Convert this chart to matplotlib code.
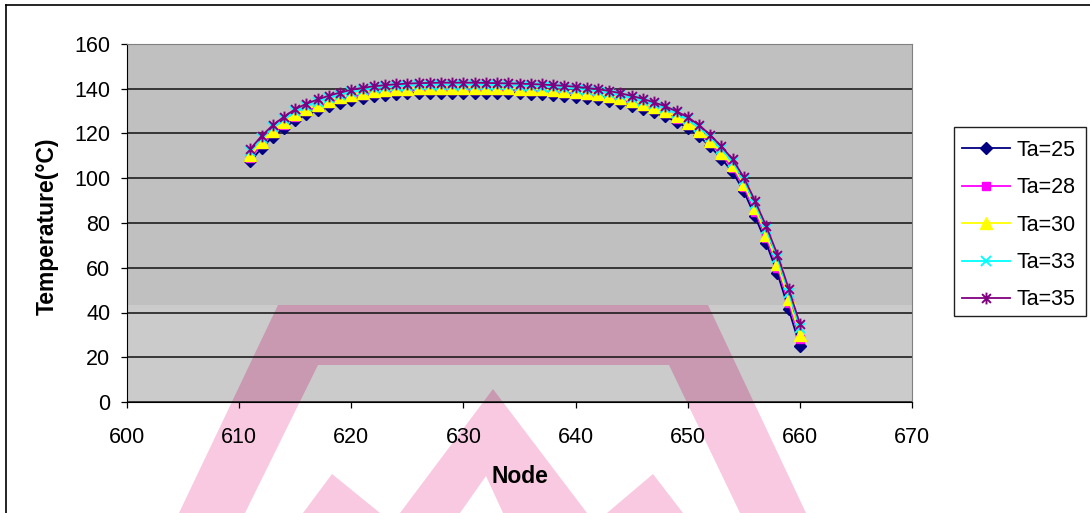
import matplotlib
matplotlib.use("Agg")
import matplotlib.pyplot as plt
from matplotlib.path import Path
from matplotlib.patches import Polygon, Rectangle

plt.rcParams['font.family'] = ['Liberation Sans', 'DejaVu Sans']

# data (nodes 611..660)
nodes = list(range(611, 661))

ta25 = [107.5, 113.5, 118.5, 122.5, 126.0, 128.5, 130.5, 132.3, 133.8, 135.0,
        136.0, 136.7, 137.2, 137.6, 137.9, 138.1, 138.2, 138.3, 138.3, 138.3,
        138.3, 138.2, 138.1, 138.0, 137.9, 137.7, 137.5, 137.2, 136.9, 136.5,
        136.0, 135.4, 134.6, 133.6, 132.4, 131.0, 129.4, 127.6, 125.2, 122.5,
        118.8, 114.2, 108.8, 102.8, 94.2, 83.0, 71.0, 57.5, 41.5, 25.0]

ta28 = [109.2, 115.1, 120.1, 124.0, 127.5, 129.9, 131.9, 133.7, 135.2, 136.4,
        137.3, 138.0, 138.5, 138.9, 139.2, 139.4, 139.5, 139.6, 139.6, 139.6,
        139.6, 139.5, 139.4, 139.3, 139.2, 139.0, 138.8, 138.5, 138.2, 137.8,
        137.3, 136.7, 135.9, 134.9, 133.7, 132.4, 130.8, 129.0, 126.6, 123.9,
        120.3, 115.8, 110.4, 104.5, 96.1, 85.1, 73.3, 60.0, 44.3, 28.0]

ta30 = [110.3, 116.2, 121.1, 125.0, 128.5, 130.9, 132.9, 134.6, 136.1, 137.3,
        138.2, 138.9, 139.4, 139.8, 140.1, 140.3, 140.4, 140.5, 140.5, 140.5,
        140.5, 140.4, 140.3, 140.2, 140.1, 139.9, 139.7, 139.4, 139.1, 138.7,
        138.2, 137.6, 136.8, 135.8, 134.6, 133.3, 131.7, 129.9, 127.6, 124.9,
        121.3, 116.8, 111.5, 105.7, 97.3, 86.5, 74.8, 61.7, 46.1, 30.0]

ta33 = [112.0, 117.8, 122.7, 126.5, 129.9, 132.3, 134.3, 136.0, 137.4, 138.6,
        139.5, 140.2, 140.7, 141.1, 141.4, 141.6, 141.7, 141.8, 141.8, 141.8,
        141.8, 141.7, 141.6, 141.5, 141.4, 141.2, 141.0, 140.7, 140.4, 140.0,
        139.5, 138.9, 138.1, 137.1, 135.9, 134.6, 133.0, 131.3, 129.0, 126.3,
        122.8, 118.4, 113.1, 107.4, 99.2, 88.5, 77.1, 64.2, 48.9, 33.0]

ta35 = [113.1, 118.9, 123.7, 127.5, 130.9, 133.3, 135.2, 136.9, 138.3, 139.5,
        140.4, 141.1, 141.6, 142.0, 142.3, 142.5, 142.6, 142.7, 142.7, 142.7,
        142.7, 142.6, 142.5, 142.4, 142.3, 142.1, 141.9, 141.6, 141.3, 140.9,
        140.4, 139.8, 139.0, 138.0, 136.8, 135.5, 133.9, 132.2, 129.9, 127.3,
        123.8, 119.4, 114.2, 108.5, 100.4, 89.9, 78.6, 65.9, 50.7, 35.0]

labels = ["Ta=25", "Ta=28", "Ta=30", "Ta=33", "Ta=35"]
x_ticks = [600, 610, 620, 630, 640, 650, 660, 670]
y_ticks = [0, 20, 40, 60, 80, 100, 120, 140, 160]

# excel style "star" marker: x with a vertical bar
star = Path([(0, -1), (0, 1), (-0.75, -0.75), (0.75, 0.75), (-0.75, 0.75), (0.75, -0.75)],
            [Path.MOVETO, Path.LINETO] * 3)

styles = [
    dict(color='#000080', marker='D', ms=6, mfc='#000080', mec='#000080'),
    dict(color='#FF00FF', marker='s', ms=5.5, mfc='#FF00FF', mec='#FF00FF'),
    dict(color='#FFFF00', marker='^', ms=8, mfc='#FFFF00', mec='#FFFF00'),
    dict(color='#00FFFF', marker='x', ms=7, mew=1.4, mec='#00FFFF'),
    dict(color='#800080', marker=star, ms=8.5, mew=1.4, mec='#800080'),
]

fig = plt.figure(figsize=(10.9, 5.13), dpi=100)

# background layer in pixel coords: outer frame, legend box, watermark
bg = fig.add_axes([0, 0, 1, 1], zorder=-1)
bg.set_xlim(0, 1090)
bg.set_ylim(513, 0)
bg.axis('off')

wm_shapes = [
    [(179, 513), (278, 305), (708, 305), (806, 513), (740, 513), (669, 365), (318, 365), (245, 513)],
    [(303, 513), (332, 474), (380, 513)],
    [(400, 513), (493, 389), (587, 513), (503, 513), (486, 476), (460, 513)],
    [(607, 513), (653, 474), (683, 513)],
]
for pts in wm_shapes:
    bg.add_patch(Polygon(pts, closed=True, fc='#F9C9E1', ec='none'))

bg.plot([6, 1090], [5, 5], color='black', lw=1.2, clip_on=False)
bg.plot([6, 6], [5, 513], color='black', lw=1.2, clip_on=False)

# legend frame
bg.add_patch(Rectangle((954, 127), 132, 189, fc='white', ec='#202020', lw=1.0))

# main plot
ax = fig.add_axes([127 / 1090, 1 - 402 / 513, 785 / 1090, 358 / 513])
ax.set_facecolor('#C0C0C0')

ax.add_patch(Rectangle((127, 305), 785, 97, transform=bg.transData,
                       fc='#CBCBCB', ec='none', zorder=0.1))
for pts in wm_shapes:
    ax.add_patch(Polygon(pts, closed=True, transform=bg.transData,
                         fc='#C899B1', ec='none', zorder=0.2))

for vals, lab, st in zip([ta25, ta28, ta30, ta33, ta35], labels, styles):
    ax.plot(nodes, vals, lw=1.3, label=lab, **st)

ax.set_xlim(600, 670)
ax.set_ylim(0, 160)
ax.set_xticks(x_ticks)
ax.set_yticks(y_ticks)
ax.set_axisbelow(True)
ax.yaxis.grid(True, color='#101010', lw=1.1)

for side in ['top', 'right']:
    ax.spines[side].set_color('#808080')
for side in ['left', 'bottom']:
    ax.spines[side].set_color('black')

ax.tick_params(axis='both', direction='out', length=4, width=0.9, labelsize=15.5, colors='black')
ax.tick_params(axis='x', pad=14)
ax.tick_params(axis='y', pad=8)

ax.set_xlabel("Node", fontsize=16.5, fontweight='bold', va='center')
ax.xaxis.set_label_coords(0.5, -0.208)
ax.set_ylabel("Temperature(°C)", fontsize=16.5, fontweight='bold', va='center')
ax.yaxis.set_label_coords(-0.102, 0.49)

leg = ax.legend(loc='upper left', bbox_to_anchor=(962 / 1090, 1 - 140 / 513),
                bbox_transform=fig.transFigure, borderaxespad=0, borderpad=0,
                frameon=False, fontsize=15.5, handlelength=2.25,
                handletextpad=0.27, labelspacing=0.76)

fig.savefig('out.png', dpi=100)
